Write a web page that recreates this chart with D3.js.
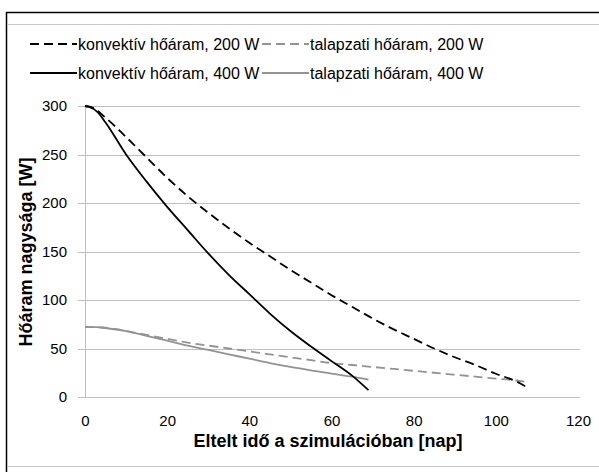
<!DOCTYPE html>
<html>
<head>
<meta charset="utf-8">
<script src="https://cdn.jsdelivr.net/npm/d3@7"></script>
<style>
    body { margin: 0; background: #fff; }
    svg { display: block; font-family: "Liberation Sans", Arial, sans-serif; }
</style>
</head>
<body>
<svg id="chart" width="599" height="472"></svg>
<script>
// days for the 200 W run and the 400 W run
const days200 = [0, 2, 5, 10, 15, 20, 25, 30, 35, 40, 45, 50, 55, 60, 65, 70, 75, 80, 85, 90, 95, 100, 105, 108];
const konv200 = [300, 298, 288, 268, 247, 226, 207, 190, 174, 159, 145, 131, 118, 105, 93, 81, 70, 60, 50, 41, 33, 24, 16, 9];
const tal200 = [72, 72, 71.5, 68, 64, 60, 56, 53, 50, 47, 44, 41, 38, 35, 33, 31, 29, 27, 25, 23, 21, 19, 17, 15];

const days400 = [0, 1, 3, 5, 10, 15, 20, 25, 30, 35, 40, 45, 50, 55, 60, 65, 69];
const konv400 = [300, 299, 294, 283, 250, 222, 196, 172, 148, 126, 106, 86, 68, 52, 37, 22, 7];
const tal400 = [72, 72, 72, 71, 68, 63, 58, 53, 48.5, 44, 39.5, 35, 31, 27.5, 24, 21, 18];

const xTicks = [0, 20, 40, 60, 80, 100, 120];
const yTicks = [0, 50, 100, 150, 200, 250, 300];

const xTitle = 'Eltelt idő a szimulációban [nap]';
const yTitle = 'Hőáram nagysága [W]';

const series = [
    { name: 'talapzati hőáram, 400 W', days: days400, values: tal400, color: '#939393', dash: null },
    { name: 'talapzati hőáram, 200 W', days: days200, values: tal200, color: '#939393', dash: '9,5' },
    { name: 'konvektív hőáram, 400 W', days: days400, values: konv400, color: '#000', dash: null },
    { name: 'konvektív hőáram, 200 W', days: days200, values: konv200, color: '#000', dash: '9,5' }
];

const svg = d3.select('#chart');
const W = 599, H = 472;

svg.append('rect').attr('width', W).attr('height', H).attr('fill', '#fff');

// frame (only top and left borders show in the crop)
svg.append('line').attr('x1', 6.5).attr('x2', W).attr('y1', 12.5).attr('y2', 12.5)
    .attr('stroke', '#000').attr('stroke-width', 1.5);
svg.append('line').attr('x1', 6.5).attr('x2', 6.5).attr('y1', 12).attr('y2', H)
    .attr('stroke', '#000').attr('stroke-width', 1.5);
svg.append('line').attr('x1', 7).attr('x2', W).attr('y1', 24.5).attr('y2', 24.5)
    .attr('stroke', '#c8c8c8');
svg.append('line').attr('x1', 7).attr('x2', W).attr('y1', 466.5).attr('y2', 466.5)
    .attr('stroke', '#c8c8c8');

const x = d3.scaleLinear().domain([0, 120]).range([85, 578]);
const y = d3.scaleLinear().domain([0, 300]).range([397, 106]);

// gridlines + left ticks
const grid = svg.append('g')
    .attr('transform', `translate(78,0)`)
    .call(d3.axisRight(y).tickValues(yTicks).tickSize(580 - 78).tickFormat(''));
grid.select('.domain').remove();
grid.selectAll('line').attr('stroke', '#bfbfbf').attr('shape-rendering', 'crispEdges');

svg.append('line').attr('x1', x(0)).attr('x2', x(0)).attr('y1', y(300)).attr('y2', y(0))
    .attr('stroke', '#bfbfbf').attr('shape-rendering', 'crispEdges');

const yAxis = svg.append('g')
    .attr('transform', `translate(78,0)`)
    .call(d3.axisLeft(y).tickValues(yTicks).tickSize(0).tickPadding(11));
yAxis.select('.domain').remove();
yAxis.selectAll('text').attr('font-size', 15).attr('fill', '#000')
    .attr('font-family', '"Liberation Sans", Arial, sans-serif');

const xAxis = svg.append('g')
    .attr('transform', `translate(0,${y(0)})`)
    .call(d3.axisBottom(x).tickValues(xTicks).tickSize(0).tickPadding(18));
xAxis.select('.domain').remove();
xAxis.selectAll('text').attr('font-size', 15).attr('fill', '#000')
    .attr('font-family', '"Liberation Sans", Arial, sans-serif');

// axis titles
svg.append('text')
    .attr('x', 328).attr('y', 447)
    .attr('text-anchor', 'middle')
    .attr('font-size', 18).attr('font-weight', 'bold')
    .text(xTitle);

svg.append('text')
    .attr('transform', 'translate(32,252) rotate(-90)')
    .attr('text-anchor', 'middle')
    .attr('font-size', 18).attr('font-weight', 'bold')
    .text(yTitle);

// lines
const line = d3.line()
    .x(d => x(d[0]))
    .y(d => y(d[1]))
    .curve(d3.curveMonotoneX);

svg.append('g')
    .selectAll('path')
    .data(series)
    .join('path')
    .attr('d', s => line(s.days.map((d, i) => [d, s.values[i]])))
    .attr('fill', 'none')
    .attr('stroke', s => s.color)
    .attr('stroke-width', 1.8)
    .attr('stroke-dasharray', s => s.dash);

// legend
const legendItems = [
    { s: series[3], x: 30, y: 44 },
    { s: series[1], x: 262, y: 44 },
    { s: series[2], x: 30, y: 73 },
    { s: series[0], x: 262, y: 73 }
];

const leg = svg.append('g')
    .selectAll('g')
    .data(legendItems)
    .join('g')
    .attr('transform', d => `translate(${d.x},${d.y})`);

leg.append('line')
    .attr('x1', 0).attr('x2', 47)
    .attr('stroke', d => d.s.color)
    .attr('stroke-width', 1.8)
    .attr('stroke-dasharray', d => d.s.dash);

leg.append('text')
    .attr('x', 48).attr('dy', '0.35em')
    .attr('font-size', 16)
    .text(d => d.s.name);
</script>
</body>
</html>
